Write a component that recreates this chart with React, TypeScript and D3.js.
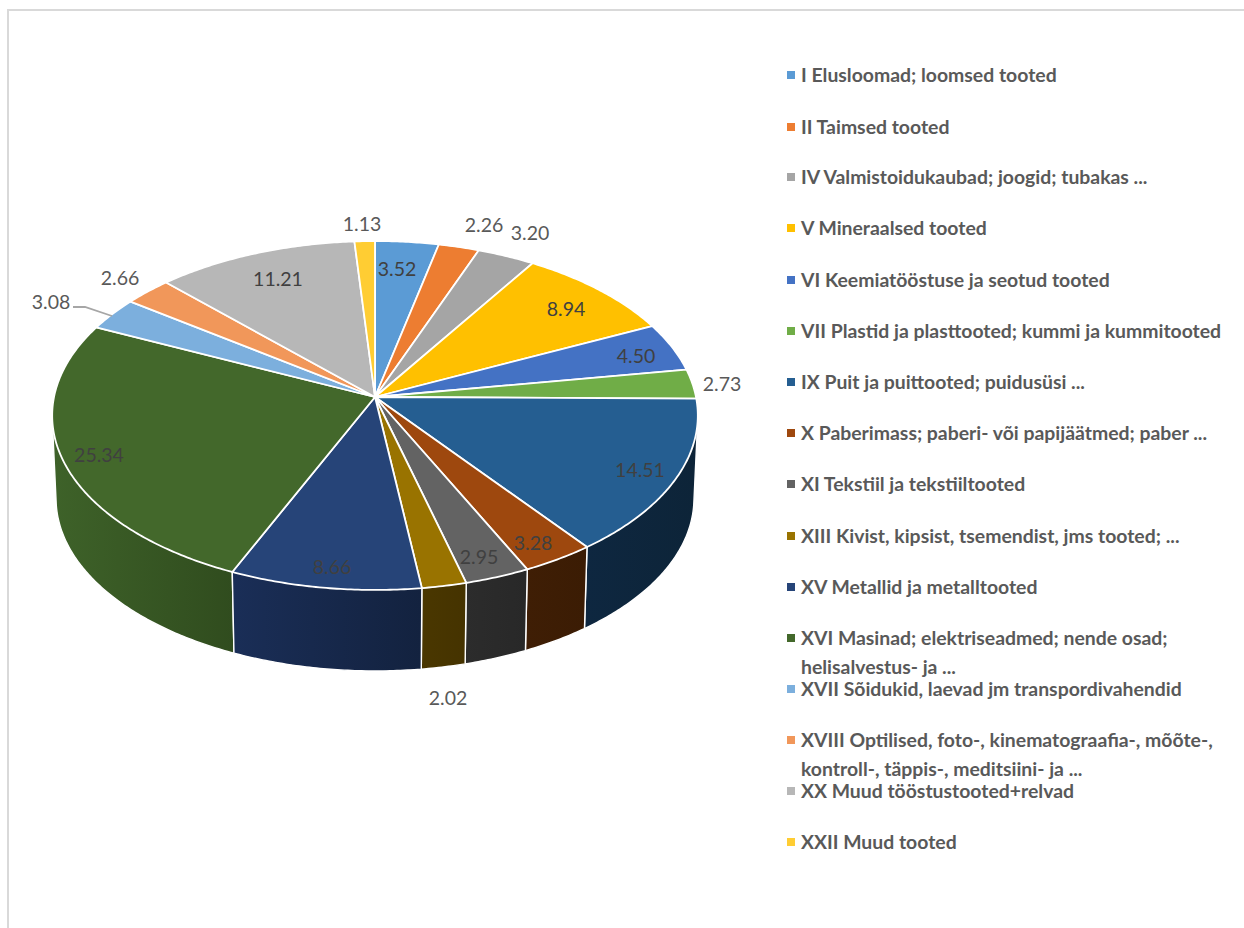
import React, { useMemo } from "react";
import * as d3 from "d3";

const categories = [
  "I Elusloomad; loomsed tooted",
  "II Taimsed tooted",
  "IV Valmistoidukaubad; joogid; tubakas ...",
  "V Mineraalsed tooted",
  "VI Keemiatööstuse ja seotud tooted",
  "VII Plastid ja plasttooted; kummi ja kummitooted",
  "IX Puit ja puittooted; puidusüsi ...",
  "X Paberimass; paberi- või papijäätmed; paber ...",
  "XI Tekstiil ja tekstiiltooted",
  "XIII Kivist, kipsist, tsemendist, jms tooted; ...",
  "XV Metallid ja metalltooted",
  "XVI Masinad; elektriseadmed; nende osad;\nhelisalvestus- ja ...",
  "XVII Sõidukid, laevad jm transpordivahendid",
  "XVIII Optilised, foto-, kinematograafia-, mõõte-,\nkontroll-, täppis-, meditsiini- ja ...",
  "XX Muud tööstustooted+relvad",
  "XXII Muud tooted",
];
const shares = [3.52, 2.26, 3.2, 8.94, 4.5, 2.73, 14.51, 3.28, 2.95, 2.02, 8.66, 25.34, 3.08, 2.66, 11.21, 1.13];
const topColors = [
  "#5b9bd5", "#ed7d31", "#a5a5a5", "#ffc000", "#4472c4", "#70ad47", "#255e91", "#9e480e",
  "#636363", "#997300", "#264478", "#43682b", "#7cafdd", "#f1975a", "#b7b7b7", "#ffcd33",
];
// Wall shading per slice: [lit end, shaded end]
const wallColors = [
  ["#24476a", "#1c3a58"], ["#6b3614", "#5a2d10"], ["#4a4a4a", "#404040"], ["#705600", "#604900"],
  ["#1e3358", "#182a4a"], ["#32501f", "#2a431a"], ["#0e2740", "#0d2438"], ["#3f1e05", "#3b1c04"],
  ["#2c2c2c", "#282828"], ["#4a3700", "#453300"], ["#1a2e57", "#13223f"], ["#3e6229", "#304c1e"],
  ["#3a5a80", "#33506f"], ["#6b4326", "#5e3a20"], ["#555555", "#4a4a4a"], ["#745c10", "#64500c"],
];
// Where each value label sits, in page coordinates
const labelAnchors: [number, number][] = [
  [397, 268], [484, 224], [530, 232], [566, 308], [636, 355], [722, 383], [640, 469], [533, 542],
  [479, 556], [448, 697], [332, 566], [99, 454], [51, 301], [120, 277], [278, 278], [362, 223],
];
const outsideLabels = new Set([1, 2, 5, 9, 12, 13, 15]);
const legendRows = [74, 126, 176, 227, 279, 330, 381, 432, 483, 535, 586, 637, 688, 739, 790, 841];
const leaderLine: [number, number][] = [[73, 307], [85, 307], [112, 316]];

// Perspective projection of the pie's unit disc onto the page
const apexX = 375;
const apexY = 397;
const spreadX = 321;
const spreadY = 172.5;
const tilt = 0.106;
const wallDepth = 83.3;
const floorScale = 0.988;

function project(angle: number, radius = 1, floor = false): [number, number] {
  const u = Math.sin(angle) * radius;
  const v = Math.cos(angle) * radius;
  const w = 1 + tilt * v;
  const s = floor ? floorScale : 1;
  return [apexX + (s * spreadX * u) / w, apexY - (s * spreadY * v) / w + (floor ? wallDepth : 0)];
}

function arcAngles(start: number, end: number): number[] {
  const steps = Math.max(2, Math.ceil((end - start) / 0.01));
  return d3.range(steps + 1).map((i) => start + ((end - start) * i) / steps);
}

const FONT = "Lato, 'Open Sans', sans-serif";

export default function App() {
  const slices = useMemo(
    () => d3.pie<number>().sort(null).value((d) => d)(shares),
    []
  );
  const line = d3.line().curve(d3.curveLinear);

  // Each wall is the hull of its rim and floor arcs, which keeps the straight
  // silhouette edge at the far left and right of the drum
  const walls = slices
    .map((s, i) => {
      const angles = arcAngles(s.startAngle, s.endAngle);
      const pts = [...angles.map((a) => project(a)), ...angles.map((a) => project(a, 1, true))];
      const hull = d3.polygonHull(pts)!;
      const xs = pts.map((p) => p[0]);
      return {
        i,
        d: line(hull)! + "Z",
        x0: d3.min(xs)!,
        x1: d3.max(xs)!,
        depth: -Math.cos((s.startAngle + s.endAngle) / 2),
      };
    })
    .sort((a, b) => a.depth - b.depth);

  const faces = slices.map((s) => {
    const rim = arcAngles(s.startAngle, s.endAngle).map((a) => project(a));
    return line([[apexX, apexY], ...rim])! + "Z";
  });

  return (
    <svg
      width={1244}
      height={928}
      style={{ position: "absolute", left: 0, top: 0, display: "block", background: "#fff" }}
      fontFamily={FONT}
    >
      <defs>
        {walls.map((w) => (
          <linearGradient
            key={w.i}
            id={`wall-${w.i}`}
            gradientUnits="userSpaceOnUse"
            x1={w.x0}
            x2={w.x1}
            y1={0}
            y2={0}
          >
            <stop offset="0" stopColor={wallColors[w.i][0]} />
            <stop offset="1" stopColor={wallColors[w.i][1]} />
          </linearGradient>
        ))}
      </defs>

      <path d="M8 928V10H1244" fill="none" stroke="#d9d9d9" strokeWidth={2} />

      {walls.map((w) => (
        <path key={w.i} d={w.d} fill={`url(#wall-${w.i})`} stroke="#ffffff" strokeWidth={1.4} strokeLinejoin="round" />
      ))}
      {faces.map((d, i) => (
        <path key={i} d={d} fill={topColors[i]} stroke="#ffffff" strokeWidth={1.8} strokeLinejoin="round" />
      ))}

      <path d={line(leaderLine)!} fill="none" stroke="#a6a6a6" strokeWidth={1.8} />

      {shares.map((v, i) => (
        <text
          key={i}
          x={labelAnchors[i][0]}
          y={labelAnchors[i][1]}
          textAnchor="middle"
          dominantBaseline="central"
          fontSize={19.5}
          fill={outsideLabels.has(i) ? "#595959" : "#404040"}
        >
          {v.toFixed(2)}
        </text>
      ))}

      {categories.map((name, i) => (
        <g key={i}>
          <rect x={787} y={legendRows[i] - 3} width={8} height={8} fill={topColors[i]} />
          {name.split("\n").map((part, j) => (
            <text
              key={j}
              x={801}
              y={legendRows[i] + j * 29}
              dominantBaseline="central"
              fontSize={19.4}
              fontWeight={700}
              fill="#595959"
            >
              {part}
            </text>
          ))}
        </g>
      ))}
    </svg>
  );
}
